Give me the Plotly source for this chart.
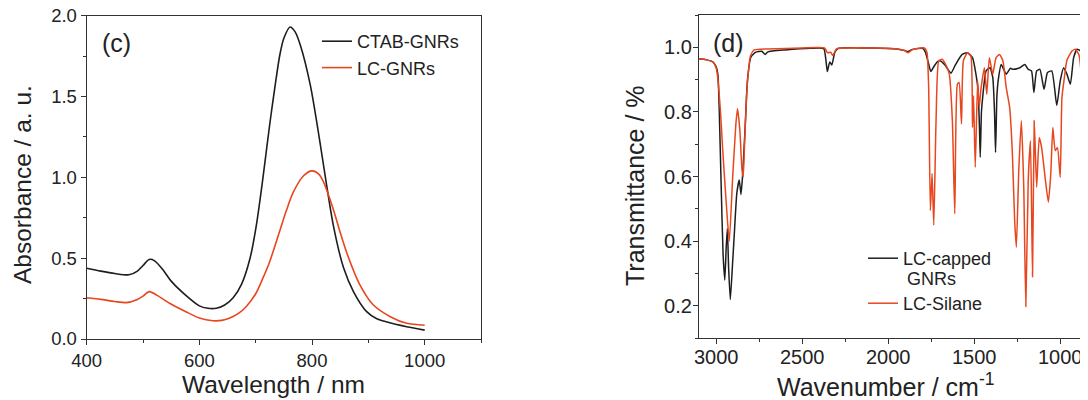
import plotly.graph_objects as go

# ---------------- Panel (c): UV-vis absorbance ----------------
wl_ctab = [400, 425, 450, 475, 490, 500, 511, 520, 535, 550, 575, 600, 615, 630, 645,
           660, 675, 690, 701, 713, 725, 735, 743, 750, 761, 770, 780, 797, 814, 826,
           838, 856, 874, 897, 915, 933, 968, 1000]
abs_ctab = [0.438, 0.42, 0.405, 0.397, 0.42, 0.455, 0.492, 0.485, 0.43, 0.358, 0.273, 0.205, 0.19, 0.19, 0.21,
            0.255, 0.34, 0.50, 0.70, 1.00, 1.33, 1.58, 1.76, 1.86, 1.93, 1.90, 1.81, 1.57, 1.22, 0.95,
            0.70, 0.44, 0.29, 0.169, 0.125, 0.105, 0.076, 0.055]

wl_lc = [400, 425, 450, 470, 490, 500, 511, 525, 547, 576, 600, 624, 640, 653, 670, 683, 700,
         712, 725, 742, 754, 767, 785, 800, 812, 820, 838, 850, 862, 885, 909, 939, 968, 1000]
abs_lc = [0.255, 0.245, 0.232, 0.225, 0.245, 0.265, 0.293, 0.27, 0.221, 0.169, 0.13, 0.113, 0.115, 0.128, 0.16, 0.2, 0.28,
          0.37, 0.48, 0.66, 0.79, 0.91, 1.01, 1.04, 1.02, 0.975, 0.80, 0.66, 0.53, 0.335, 0.21, 0.138, 0.097, 0.085]

# ---------------- Panel (d): FTIR transmittance ----------------
wn_capped = [3100, 3060, 3020, 3000, 2990, 2982, 2972, 2960, 2950, 2942,
             2935, 2928, 2918, 2905, 2895, 2880, 2866, 2856, 2847, 2833,
             2818, 2798, 2770, 2735, 2715, 2700, 2600, 2450, 2375, 2362,
             2354, 2340, 2328, 2310, 2290, 2100, 1950, 1905, 1885, 1860,
             1800, 1784, 1768, 1752, 1735, 1715, 1696, 1670, 1648, 1635,
             1608, 1570, 1540, 1510, 1490, 1478, 1470, 1465, 1458, 1450,
             1431, 1408, 1392, 1382, 1376, 1368, 1360, 1343, 1314, 1290,
             1274, 1235, 1206, 1186, 1167, 1153, 1137, 1118, 1094, 1074,
             1049, 1020, 1000, 980, 961, 941, 922, 902, 882, 862,
             838]
t_capped = [0.965, 0.962, 0.955, 0.94, 0.915, 0.80, 0.59, 0.36, 0.28, 0.38,
            0.44, 0.32, 0.22, 0.33, 0.42, 0.55, 0.59, 0.545, 0.60, 0.74,
            0.90, 0.97, 0.985, 0.988, 0.978, 0.986, 0.992, 0.997, 0.996, 0.96,
            0.925, 0.955, 0.945, 0.985, 0.997, 0.998, 0.995, 0.99, 0.987, 0.993,
            0.997, 0.985, 0.955, 0.925, 0.94, 0.955, 0.958, 0.945, 0.928, 0.92,
            0.947, 0.978, 0.983, 0.968, 0.917, 0.87, 0.76, 0.66, 0.80, 0.85,
            0.927, 0.937, 0.906, 0.80, 0.675, 0.85, 0.90, 0.947, 0.917, 0.935,
            0.932, 0.937, 0.947, 0.932, 0.927, 0.86, 0.927, 0.932, 0.87, 0.922,
            0.927, 0.82, 0.896, 0.937, 0.917, 0.886, 0.968, 0.994, 0.989, 0.96,
            0.95]

wn_silane = [3100, 3060, 3020, 3000, 2992, 2975, 2963, 2938, 2924, 2905,
             2886, 2876, 2862, 2850, 2843, 2835, 2820, 2800, 2779, 2700,
             2500, 2370, 2352, 2335, 2322, 2300, 2100, 1950, 1905, 1885,
             1860, 1790, 1775, 1765, 1755, 1745, 1735, 1722, 1706, 1686,
             1660, 1645, 1627, 1613, 1598, 1588, 1574, 1563, 1539, 1520,
             1510, 1504, 1494, 1480, 1471, 1461, 1441, 1427, 1412, 1392,
             1373, 1353, 1333, 1314, 1294, 1278, 1265, 1255, 1241, 1226,
             1212, 1200, 1186, 1173, 1161, 1151, 1137, 1122, 1108, 1088,
             1069, 1055, 1043, 1029, 1016, 1000, 990, 976, 961, 931,
             912, 890, 880, 873, 860, 838]
t_silane = [0.965, 0.962, 0.955, 0.935, 0.91, 0.80, 0.69, 0.49, 0.40, 0.59,
            0.76, 0.81, 0.74, 0.62, 0.60, 0.70, 0.88, 0.975, 0.992, 0.995,
            0.998, 0.998, 0.983, 0.985, 0.975, 0.995, 0.998, 0.995, 0.99, 0.983,
            0.993, 0.998, 0.985, 0.88, 0.495, 0.61, 0.45, 0.77, 0.958, 0.963,
            0.94, 0.917, 0.773, 0.485, 0.886, 0.891, 0.763, 0.958, 0.983, 0.975,
            0.752, 0.85, 0.629, 0.896, 0.814, 0.87, 0.937, 0.855, 0.968, 0.917,
            0.968, 0.978, 0.958, 0.876, 0.814, 0.67, 0.465, 0.382, 0.619, 0.773,
            0.567, 0.198, 0.588, 0.711, 0.29, 0.773, 0.567, 0.721, 0.69, 0.598,
            0.521, 0.608, 0.752, 0.68, 0.69, 0.598, 0.845, 0.906, 0.96, 0.989,
            0.994, 0.975, 0.93, 0.865, 0.94, 0.93]

BLACK = "#1e1e1e"
RED = "#e8461e"
FONT = "Liberation Sans, Arial, sans-serif"
TXT = "#222222"
W, H = 1088, 400
OFF = 8  # page body margin offset of the plot div

fig = go.Figure()

fig.add_trace(go.Scatter(x=wl_ctab, y=abs_ctab, mode="lines", name="CTAB-GNRs",
                         line=dict(color=BLACK, width=1.6, shape="spline", smoothing=0.8),
                         xaxis="x", yaxis="y", legend="legend"))
fig.add_trace(go.Scatter(x=wl_lc, y=abs_lc, mode="lines", name="LC-GNRs",
                         line=dict(color=RED, width=1.6, shape="spline", smoothing=0.8),
                         xaxis="x", yaxis="y", legend="legend"))
fig.add_trace(go.Scatter(x=wn_capped, y=t_capped, mode="lines", name="LC-capped",
                         line=dict(color=BLACK, width=1.5, shape="spline", smoothing=0.5),
                         xaxis="x2", yaxis="y2", legend="legend2"))
fig.add_trace(go.Scatter(x=wn_silane, y=t_silane, mode="lines", name="LC-Silane",
                         line=dict(color=RED, width=1.5, shape="spline", smoothing=0.5),
                         xaxis="x2", yaxis="y2", legend="legend3"))

def px_x(p):
    return (p - OFF) / W

def px_y(p):
    return 1 - (p - OFF) / H

def axis_style(size, standoff=0):
    return dict(showgrid=False, zeroline=False, showline=True, linecolor="#333333",
                linewidth=1.3, ticks="outside", ticklen=5, tickwidth=1.2, tickcolor="#333333",
                automargin=False, ticklabelstandoff=standoff, ticklabeloverflow="allow",
                tickfont=dict(family=FONT, size=size, color=TXT))

minor_style = dict(ticklen=3, ticks="outside", tickcolor="#333333", tickwidth=1.2)
leg_common = dict(xanchor="left", yanchor="top", bgcolor="rgba(0,0,0,0)", borderwidth=0,
                  tracegroupgap=0)

fig.update_layout(
    width=W, height=H,
    margin=dict(l=0, r=0, t=0, b=0, pad=0, autoexpand=False),
    paper_bgcolor="white", plot_bgcolor="white",
    font=dict(family=FONT, color=TXT),
    xaxis=dict(domain=[px_x(86.7), px_x(481)], range=[400, 1100], tickvals=[400, 600, 800, 1000],
               minor=dict(tickvals=[500, 700, 900, 1100], **minor_style),
               mirror=True, anchor="y", **axis_style(18.5)),
    yaxis=dict(domain=[px_y(339), px_y(15.7)], range=[0, 2.0], tickvals=[0, 0.5, 1.0, 1.5, 2.0],
               tickformat=".1f",
               minor=dict(tickvals=[0.25, 0.75, 1.25, 1.75], **minor_style),
               mirror=True, anchor="x", **axis_style(18.5)),
    xaxis2=dict(domain=[px_x(699), 1.0], range=[3100, 792], tickvals=[3000, 2500, 2000, 1500, 1000],
                minor=dict(tickvals=[2750, 2250, 1750, 1250], **minor_style),
                mirror=True, anchor="y2", **axis_style(20, -4)),
    yaxis2=dict(domain=[px_y(338.3), px_y(15)], range=[0.1, 1.1], tickvals=[0.2, 0.4, 0.6, 0.8, 1.0],
                tickformat=".1f",
                minor=dict(tickvals=[0.1, 0.3, 0.5, 0.7, 0.9, 1.1], **minor_style),
                mirror=False, anchor="x2", **axis_style(20, -3)),
    showlegend=True,
    legend=dict(x=px_x(317), y=px_y(23), font=dict(family=FONT, size=18, color=TXT), **leg_common),
    legend2=dict(x=px_x(863), y=px_y(240), font=dict(family=FONT, size=18, color=TXT), **leg_common),
    legend3=dict(x=px_x(863), y=px_y(285), font=dict(family=FONT, size=18, color=TXT), **leg_common),
)

annots = [
    dict(text="(c)", x=px_x(100), y=px_y(43), xanchor="left", yanchor="middle", font_size=25),
    dict(text="(d)", x=px_x(711), y=px_y(43), xanchor="left", yanchor="middle", font_size=25),
    dict(text="GNRs", x=px_x(905), y=px_y(279), xanchor="left", yanchor="middle", font_size=18),
    dict(text="Absorbance / a. u.", x=px_x(22), y=px_y(185), textangle=-90, font_size=24.5),
    dict(text="Wavelength / nm", x=px_x(273), y=px_y(384), font_size=24.5),
    dict(text="Transmittance / %", x=px_x(635), y=px_y(186), textangle=-90, font_size=25),
    dict(text="Wavenumber / cm<sup>-1</sup>", x=px_x(885), y=px_y(385), font_size=25),
]
for a in annots:
    fig.add_annotation(xref="paper", yref="paper", showarrow=False,
                       xanchor=a.get("xanchor", "center"), yanchor=a.get("yanchor", "middle"),
                       x=a["x"], y=a["y"], text=a["text"], textangle=a.get("textangle", 0),
                       font=dict(family=FONT, size=a["font_size"], color=TXT))

fig.write_html("out.html")
